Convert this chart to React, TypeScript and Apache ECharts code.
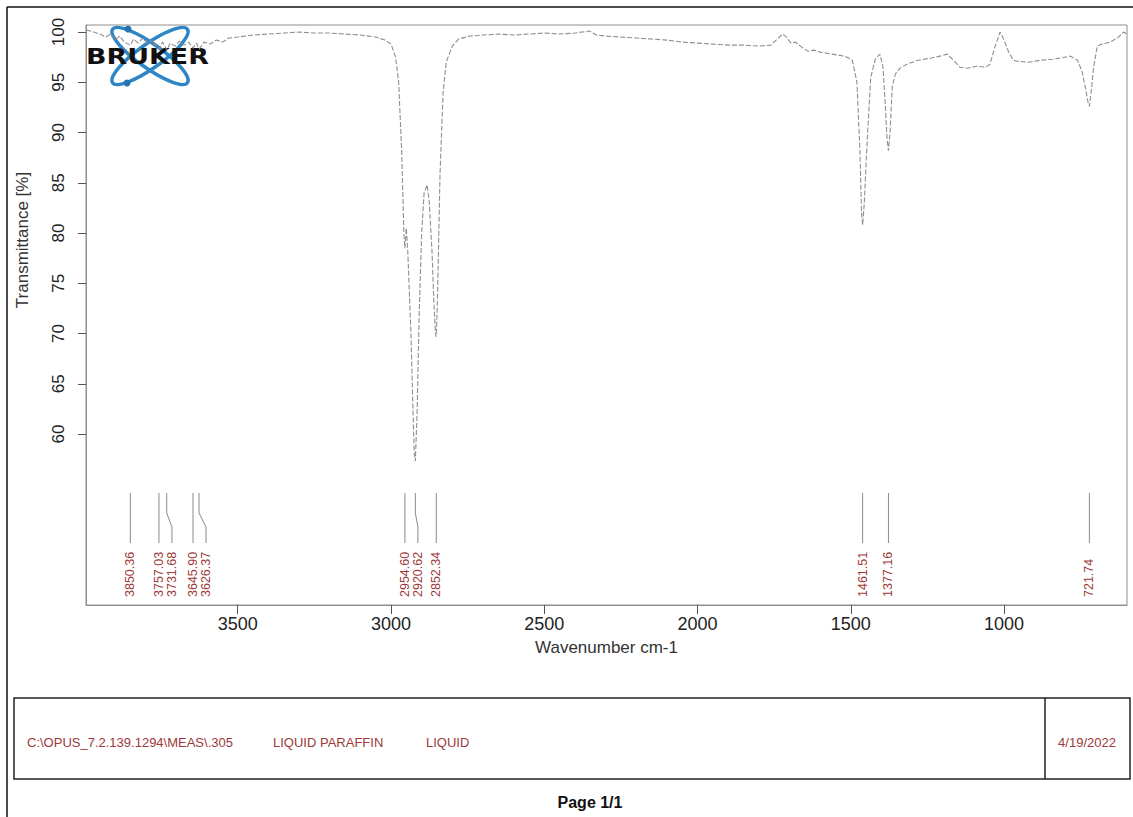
import React, { useEffect, useRef } from "react";
import * as echarts from "echarts";

// Spectrum: wavenumber (cm-1) and transmittance (%)
const wavenumbers = [
  3994, 3970, 3950, 3930, 3915, 3900, 3885, 3870, 3850, 3840, 3825, 3810, 3795, 3780, 3765, 3757, 3745, 3731,
  3720, 3705, 3690, 3675, 3660, 3646, 3635, 3626, 3610, 3590, 3570, 3550, 3530, 3500, 3450, 3400, 3350, 3300,
  3250, 3200, 3150, 3100, 3050, 3020, 3000, 2985, 2975, 2965, 2958, 2954.6, 2950, 2945, 2935, 2928, 2924,
  2920.6, 2915, 2908, 2900, 2892, 2882, 2875, 2866, 2860, 2855, 2852.3, 2848, 2840, 2830, 2820, 2800, 2780,
  2742, 2700, 2650, 2600, 2550, 2500, 2450, 2400, 2353, 2330, 2300, 2250, 2200, 2150, 2100, 2050, 2000, 1950,
  1900, 1850, 1800, 1760, 1740, 1722, 1710, 1695, 1680, 1660, 1640, 1620, 1600, 1560, 1520, 1495, 1480, 1470,
  1465, 1461.5, 1456, 1450, 1445, 1435, 1420, 1405, 1395, 1388, 1382, 1377.2, 1372, 1365, 1355, 1340, 1317,
  1280, 1240, 1209, 1186, 1165, 1144, 1120, 1090, 1060, 1046, 1030, 1013, 1000, 985, 970, 958, 920, 880, 840,
  800, 784, 760, 745, 735, 726, 721.7, 716, 708, 696, 680, 654, 630, 610, 600,
];
const transmittance = [
  100.2, 100.0, 99.8, 99.5, 99.8, 99.2, 99.6, 99.0, 98.7, 99.3, 98.9, 99.4, 98.8, 99.2, 98.6, 98.3, 99.0, 98.2,
  98.9, 98.6, 99.1, 98.7, 99.0, 98.4, 98.9, 98.3, 99.0, 98.8, 99.2, 99.0, 99.4, 99.5, 99.7, 99.8, 99.9, 100.0,
  99.9, 99.9, 99.8, 99.7, 99.5, 99.2, 98.8, 97.5, 95.0, 88.0, 80.0, 78.5, 80.5, 78.0, 70.0, 62.0, 58.0,
  57.3, 62.0, 72.0, 80.0, 84.0, 84.8, 83.0, 78.0, 73.0, 70.0, 69.7, 74.0, 86.0, 94.0, 97.0, 98.6, 99.3,
  99.6, 99.7, 99.8, 99.7, 99.8, 99.9, 99.8, 99.9, 100.1, 99.7, 99.6, 99.5, 99.4, 99.3, 99.2, 99.0, 98.9, 98.8,
  98.7, 98.7, 98.6, 98.7, 99.3, 99.8, 99.5, 98.9, 99.0, 98.5, 98.1, 98.2, 98.0, 97.8, 97.6, 97.2, 95.0, 88.0,
  82.0, 80.8, 83.0, 87.0, 90.0, 95.5, 97.3, 97.8, 96.5, 93.0, 89.5, 88.2, 90.0, 94.5, 95.8, 96.4, 96.8,
  97.2, 97.4, 97.6, 97.8, 97.2, 96.5, 96.4, 96.6, 96.5, 96.8, 98.5, 100.0, 99.2, 98.0, 97.2, 97.1, 97.0, 97.2, 97.3,
  97.5, 97.6, 97.2, 96.0, 94.5, 93.0, 92.6, 94.0, 96.5, 98.6, 98.8, 99.0, 99.4, 100.0, 99.8,
];

// Picked peaks
const peakWavenumbers = [3850.36, 3757.03, 3731.68, 3645.9, 3626.37, 2954.6, 2920.62, 2852.34, 1461.51, 1377.16, 721.74];

// Axis ticks
const xTicks = [1000, 1500, 2000, 2500, 3000, 3500];
const yTicks = [60, 65, 70, 75, 80, 85, 90, 95, 100];

// Footer texts
const footerPath = "C:\\OPUS_7.2.139.1294\\MEAS\\.305";
const footerSample = "LIQUID PARAFFIN";
const footerState = "LIQUID";
const footerDate = "4/19/2022";

const X_MIN = 599;
const X_MAX = 3995;
const Y_MIN = 43;
const Y_MAX = 100.7;

const FONT = "'Liberation Sans', Arial, sans-serif";
const RED = "#9c3a3a";

export default function App() {
  const ref = useRef<HTMLDivElement>(null);

  useEffect(() => {
    if (!ref.current) return;
    const chart = echarts.init(ref.current, undefined, { renderer: "svg" });
    const spectrum = wavenumbers.map((w, i) => [w, transmittance[i]]);
    const peakData = peakWavenumbers.map((w) => [w, Y_MIN]);

    const renderPeak = (params: any, api: any) => {
      const idx = params.dataIndex;
      const xs = peakWavenumbers.map((w) => api.coord([w, Y_MIN])[0]);
      const order = xs.map((x, i) => i).sort((a, b) => xs[a] - xs[b]);
      const lx: number[] = new Array(xs.length);
      const gap = 13;
      let prev = -1e9;
      for (const i of order) {
        const v = Math.max(xs[i], prev + gap);
        lx[i] = v;
        prev = v;
      }
      const bottom = api.coord([peakWavenumbers[idx], Y_MIN])[1];
      const x0 = xs[idx];
      const x1 = lx[idx];
      const text = peakWavenumbers[idx].toFixed(2);
      return {
        type: "group",
        children: [
          {
            type: "polyline",
            shape: {
              points: [
                [x0, bottom - 112],
                [x0, bottom - 92],
                [x1, bottom - 78],
                [x1, bottom - 62],
              ],
            },
            style: { stroke: "#8a8a8a", lineWidth: 1, fill: null },
          },
          {
            type: "text",
            x: x1,
            y: bottom - 8,
            rotation: Math.PI / 2,
            style: {
              text,
              fill: RED,
              font: `12.5px ${FONT}`,
              align: "left",
              verticalAlign: "middle",
            },
          },
        ],
      };
    };

    const cx = 150;
    const cy = 56;

    chart.setOption({
      animation: false,
      backgroundColor: "#ffffff",
      grid: { left: 86, right: 6, top: 25, bottom: 212, show: true, borderColor: "#8f8f8f", borderWidth: 1 },
      xAxis: {
        type: "value",
        inverse: true,
        min: X_MIN,
        max: X_MAX,
        name: "Wavenumber cm-1",
        nameLocation: "middle",
        nameGap: 34,
        nameTextStyle: { fontSize: 17, color: "#333", fontFamily: FONT },
        axisLine: { show: true, onZero: false, lineStyle: { color: "#8f8f8f", width: 1 } },
        axisTick: { show: true, length: 9, customValues: xTicks, lineStyle: { color: "#555" } },
        axisLabel: {
          customValues: xTicks,
          formatter: (v: number) => String(v),
          fontSize: 18,
          color: "#222",
          fontFamily: FONT,
          margin: 10,
        },
        splitLine: { show: false },
      },
      yAxis: {
        type: "value",
        min: Y_MIN,
        max: Y_MAX,
        axisLine: { show: true, onZero: false, lineStyle: { color: "#8f8f8f", width: 1 } },
        axisTick: { show: true, length: 8, customValues: yTicks, lineStyle: { color: "#555" } },
        axisLabel: {
          customValues: yTicks,
          formatter: (v: number) => String(v),
          rotate: 90,
          fontSize: 17,
          color: "#222",
          fontFamily: FONT,
          margin: 19,
        },
        splitLine: { show: false },
      },
      series: [
        {
          type: "line",
          data: spectrum,
          symbol: "none",
          lineStyle: { color: "#978b8b", width: 1.1, type: [5, 2] },
          z: 2,
        },
        {
          type: "custom",
          data: peakData,
          renderItem: renderPeak,
          clip: false,
          z: 3,
        },
      ],
      graphic: [
        // page frame
        { type: "line", shape: { x1: 7, y1: 7, x2: 1133, y2: 7 }, style: { stroke: "#111", lineWidth: 1.5 } },
        { type: "line", shape: { x1: 7, y1: 7, x2: 7, y2: 817 }, style: { stroke: "#111", lineWidth: 1.5 } },
        // y-axis title
        {
          type: "text",
          x: 22,
          y: 240,
          rotation: Math.PI / 2,
          style: { text: "Transmittance [%]", font: `17px ${FONT}`, fill: "#333", align: "center", verticalAlign: "middle" },
        },
        // footer box
        { type: "rect", shape: { x: 14, y: 698, width: 1116, height: 81 }, style: { stroke: "#222", lineWidth: 1.5, fill: "#fff" } },
        { type: "line", shape: { x1: 1045, y1: 698, x2: 1045, y2: 779 }, style: { stroke: "#222", lineWidth: 1.5 } },
        { type: "text", x: 27, y: 742, style: { text: footerPath, font: `13px ${FONT}`, fill: RED, verticalAlign: "middle" } },
        { type: "text", x: 273, y: 742, style: { text: footerSample, font: `13px ${FONT}`, fill: RED, verticalAlign: "middle" } },
        { type: "text", x: 426, y: 742, style: { text: footerState, font: `13px ${FONT}`, fill: RED, verticalAlign: "middle" } },
        { type: "text", x: 1087, y: 742, style: { text: footerDate, font: `13px ${FONT}`, fill: RED, align: "center", verticalAlign: "middle" } },
        { type: "text", x: 590, y: 802, style: { text: "Page 1/1", font: `bold 16px ${FONT}`, fill: "#111", align: "center", verticalAlign: "middle" } },
        // logo
        {
          type: "group",
          z: 10,
          children: [
            { type: "ellipse", x: cx, y: cy, rotation: 0.62, shape: { cx: 0, cy: 0, rx: 46, ry: 12 }, style: { stroke: "#2f86c4", lineWidth: 3.5, fill: null } },
            { type: "ellipse", x: cx, y: cy, rotation: -0.62, shape: { cx: 0, cy: 0, rx: 46, ry: 12 }, style: { stroke: "#2f86c4", lineWidth: 3.5, fill: null } },
            { type: "circle", shape: { cx: 128, cy: 29, r: 3.5 }, style: { fill: "#2573b0" } },
            { type: "circle", shape: { cx: 127, cy: 83, r: 3.5 }, style: { fill: "#2573b0" } },
            {
              type: "text",
              x: 86,
              y: 57,
              scaleX: 1.28,
              style: { text: "BRUKER", font: `900 21px 'DejaVu Sans', sans-serif`, fill: "#111", verticalAlign: "middle" },
            },
          ],
        },
      ],
    });
    return () => chart.dispose();
  }, []);

  return <div ref={ref} style={{ position: "absolute", left: 0, top: 0, width: 1133, height: 817 }} />;
}
